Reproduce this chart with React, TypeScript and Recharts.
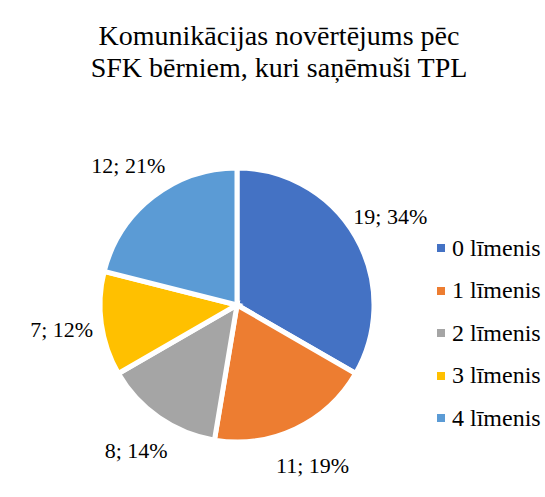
import React from 'react';
import { PieChart, Pie, Cell, Legend } from 'recharts';

const levels = ['0 līmenis', '1 līmenis', '2 līmenis', '3 līmenis', '4 līmenis'];
const counts = [19, 11, 8, 7, 12];
const shares = [34, 19, 14, 12, 21];
const colors = ['#4472C4', '#ED7D31', '#A5A5A5', '#FFC000', '#5B9BD5'];

const data = levels.map((name, i) => ({ name, value: counts[i], share: shares[i] }));

const FONT = "'Liberation Serif', 'Times New Roman', serif";
const RAD = Math.PI / 180;

const renderLabel = (props: any) => {
  const { cx, cy, midAngle, outerRadius, index } = props;
  const r = outerRadius + 40;
  const x = cx + r * Math.cos(-midAngle * RAD);
  const y = cy + r * Math.sin(-midAngle * RAD);
  return (
    <text x={x} y={y} textAnchor="middle" dominantBaseline="central" fill="#000" fontSize={22} style={{ fontFamily: FONT }}>
      {`${counts[index]}; ${shares[index]}%`}
    </text>
  );
};

const renderLegend = () => (
  <div style={{ fontFamily: FONT, fontSize: 24 }}>
    {data.map((d, i) => (
      <div key={d.name} style={{ display: 'flex', alignItems: 'center', height: 42.5 }}>
        <span style={{ width: 8, height: 8, background: colors[i], marginRight: 7, flexShrink: 0 }} />
        <span style={{ whiteSpace: 'nowrap' }}>{d.name}</span>
      </div>
    ))}
  </div>
);

export default function App() {
  return (
    <div style={{ position: 'absolute', left: 0, top: 0, width: 545, height: 497, background: '#fff', overflow: 'hidden' }}>
      <div
        style={{
          position: 'absolute',
          left: 0,
          top: 20,
          width: 558,
          textAlign: 'center',
          fontFamily: FONT,
          fontSize: 28,
          lineHeight: '32px',
          color: '#000',
        }}
      >
        Komunikācijas novērtējums pēc
        <br />
        SFK bērniem, kuri saņēmuši TPL
      </div>
      <PieChart width={545} height={497} margin={{ top: 0, right: 0, bottom: 0, left: 0 }}>
        <Pie
          data={data}
          dataKey="value"
          nameKey="name"
          cx={237}
          cy={305}
          outerRadius={137}
          startAngle={90}
          endAngle={-270}
          stroke="#fff"
          strokeWidth={5}
          label={renderLabel}
          labelLine={false}
          isAnimationActive={false}
        >
          {data.map((d, i) => (
            <Cell key={d.name} fill={colors[i]} />
          ))}
        </Pie>
        <Legend
          layout="vertical"
          align="right"
          verticalAlign="middle"
          content={renderLegend}
          wrapperStyle={{ left: 437, top: 227, width: 108 }}
        />
      </PieChart>
    </div>
  );
}
